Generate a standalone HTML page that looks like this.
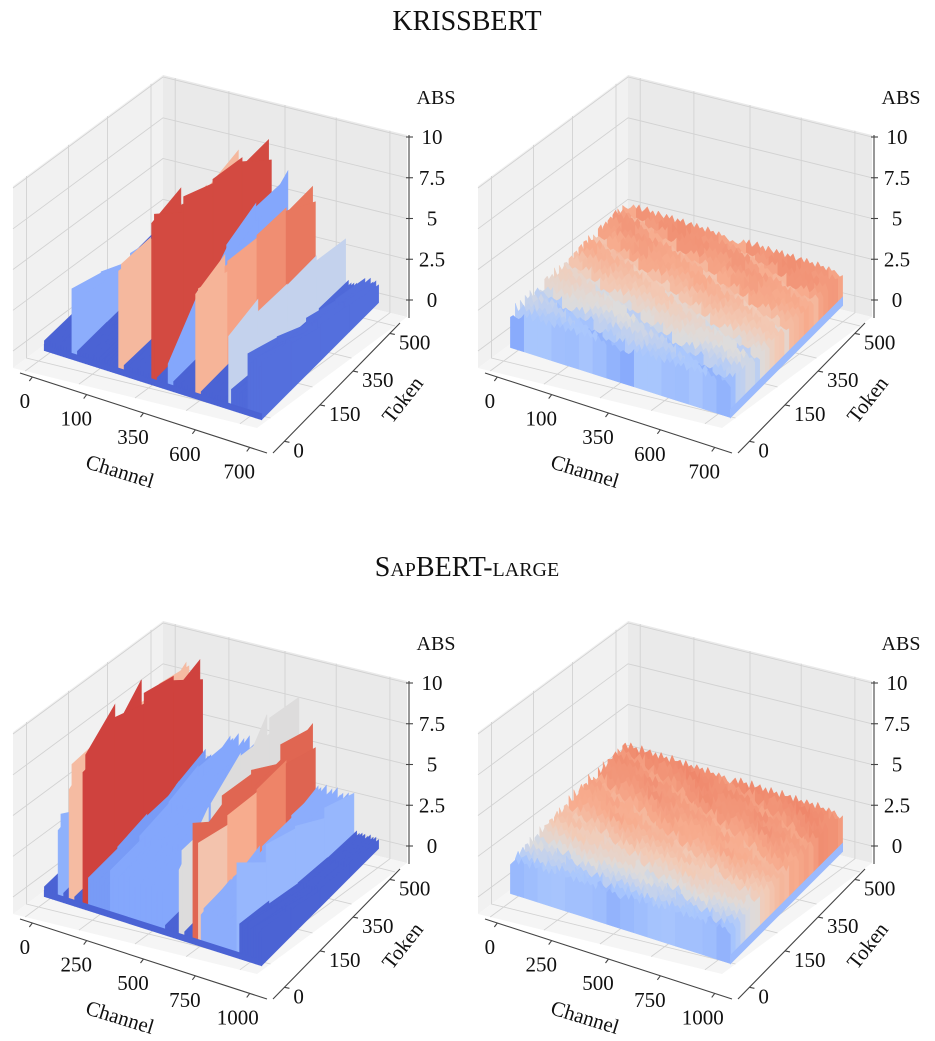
<!DOCTYPE html>
<html><head><meta charset="utf-8"><style>
html,body{margin:0;padding:0;background:#fff;}
svg{display:block;font-family:"Liberation Serif",serif;}
</style></head><body>
<svg id="fig" width="935" height="1041" viewBox="0 0 935 1041" xmlns="http://www.w3.org/2000/svg">
<rect width="935" height="1041" fill="#fff"/>
<text x="467" y="30" text-anchor="middle" font-size="28" fill="#111">KRISSBERT</text>
<text x="467" y="576" text-anchor="middle" font-size="28" fill="#111" style="font-variant:small-caps">SapBERT-large</text>
</svg>
<script>
// ---- shared tick labels ----
const chanTicksTop = ["0","100","350","600","700"];
const chanTicksBottom = ["0","250","500","750","1000"];
const tokenTicks = ["0","150","350","500"];
const zTicks = [0, 2.5, 5, 7.5, 10];
const zTickLabels = ["0","2.5","5","7.5","10"];
const chanTickFrac = [0.05, 0.27, 0.5, 0.71, 0.93];
const tokenTickFrac = [0.09, 0.37, 0.63, 0.92];

// ---- KRISSBERT original (outlier ribbons) ----
const krissBase = [0.6, 0.55, 0.5, 0.5, 0.45];
const krissSegStart = [0.13, 0.34, 0.49, 0.57, 0.69, 0.84, 0.855, 0.93];
const krissSegEnd   = [0.145, 0.355, 0.505, 0.585, 0.705, 0.855, 0.93, 1.0];
const krissSegHeights = [
  [4.0,3.3,2.7,2.2,1.8],
  [6.8,6.5,6.3,6.2,6.0],
  [10.2,9.5,8.8,8.1,7.4],
  [1.5,4.0,5.0,5.5,6.0],
  [6.6,6.5,6.3,6.0,5.5],
  [4.7,4.4,4.2,3.9,3.7],
  [1.2,1.0,0.9,0.8,0.7],
  [3.5,2.8,2.2,1.6,1.2]
];
const krissSegTones = [
  [3.2,3.2,3.2,3.2,3.2],
  [6.6,6.6,6.6,6.6,6.6],
  [9.1,9.1,9.1,9.1,9.1],
  [3.0,3.0,3.0,3.0,3.0],
  [6.5,7.0,7.5,8.0,8.5],
  [4.5,4.5,4.5,4.5,4.5],
  [1.0,1.0,1.0,1.0,1.0],
  [1.2,1.2,1.2,1.2,1.2]
];
// ---- SapBERT-large original ----
const sapBase = [0.6, 0.55, 0.5, 0.5, 0.45];
const sapSegStart = [0.07, 0.12, 0.18, 0.2, 0.3, 0.62, 0.68, 0.70, 0.72, 0.88, 0.895];
const sapSegEnd   = [0.085, 0.135, 0.195, 0.3, 0.55, 0.635, 0.69, 0.715, 0.88, 0.895, 1.0];
const sapSegHeights = [
  [4.8,4.5,4.3,4.1,4.0],
  [8.0,8.0,7.8,7.6,7.5],
  [9.3,9.8,9.5,8.5,7.7],
  [2.0,2.1,2.2,2.3,2.4],
  [2.8,3.1,3.4,3.7,3.9],
  [5.0,6.0,7.0,7.5,7.5],
  [6.6,6.5,6.3,6.1,6.0],
  [6.1,6.0,5.8,5.6,5.5],
  [2.2,2.3,2.4,2.5,2.6],
  [5.2,4.6,4.0,3.4,2.9],
  [2.2,1.6,1.1,0.8,0.6]
];
const sapSegTones = [
  [3.3,3.3,3.3,3.3,3.3],
  [6.5,6.5,6.5,6.5,6.5],
  [9.2,9.2,9.2,9.2,9.2],
  [2.6,2.6,2.6,2.6,2.6],
  [3.0,3.0,3.0,3.0,3.0],
  [5.0,5.0,5.0,5.0,5.0],
  [8.6,8.6,8.6,8.6,8.6],
  [6.0,6.5,7.5,8.5,8.8],
  [3.2,3.2,3.2,3.2,3.2],
  [3.5,3.5,3.5,3.5,3.5],
  [0.8,0.8,0.8,0.8,0.8]
];
const baseJitter = [1.0,0.85,1.1,0.95,1.05,0.9,1.12,0.97,1.03,0.88,1.08,0.93,1.0,1.06,0.9,1.02];

// ---- smoothed (right) panels: rows front->back ----
const krissRowLevel = [2.2,2.2,2.1,2.2,2.1,2.1,2.0,2.1,2.0,2.0,2.0,2.0,2.0,2.0,2.0,2.0,1.9,2.0,2.0,1.9,2.0,2.0,1.9,2.0];
const krissRowTone  = [3.8,4.0,4.2,4.4,4.6,4.8,5.0,5.2,5.4,5.6,5.9,6.1,6.3,6.5,6.7,6.9,7.0,7.1,7.2,7.3,7.4,7.5,7.5,7.6];
const krissChanFactor = [0.85,0.92,0.88,0.86,0.93,1.05,0.95,1.1,0.9,1.0,1.12,0.95,1.05,0.9,1.1,1.0,0.92,1.08,0.97,1.1,0.9,1.05,0.98,1.1,0.9,1.0,1.07,0.93,1.1,0.96,1.03,0.9,1.1,0.97,1.02,0.9,1.06,0.95,1.0,0.92];
const sapRowLevel = [2.1,2.1,2.1,2.1,2.1,2.1,2.2,2.2,2.2,2.2,2.2,2.2,2.2,2.3,2.3,2.3,2.3,2.3,2.3,2.3,2.3,2.3,2.3,2.3];
const sapRowTone  = [3.8,4.0,4.3,4.6,4.9,5.2,5.5,5.8,6.0,6.3,6.5,6.7,6.9,7.0,7.1,7.2,7.3,7.4,7.5,7.6,7.6,7.7,7.7,7.8];
const sapChanFactor = [0.85,0.95,1.05,0.9,1.1,0.97,1.02,0.88,1.12,0.95,1.0,1.08,0.92,1.05,0.9,1.1,0.96,1.03,0.9,1.12,0.98,1.0,1.06,0.9,1.1,0.95,1.02,0.93,1.08,0.97,1.04,0.9,1.1,0.96,1.0,0.92,1.05,0.95,1.02,0.9];

const NS = "http://www.w3.org/2000/svg";
const svg = document.getElementById('fig');
const CW = [[0,59,76,192],[0.1,79,105,217],[0.2,103,136,238],[0.3,132,167,252],[0.4,170,199,253],[0.5,221,220,220],[0.6,242,203,183],[0.7,247,172,142],[0.8,238,132,104],[0.9,214,82,68],[1.0,180,4,38]];
function cmap(v){v=Math.max(0,Math.min(1,v));for(let i=1;i<CW.length;i++){if(v<=CW[i][0]){const a=CW[i-1],b=CW[i],f=(v-a[0])/(b[0]-a[0]);return 'rgb('+[1,2,3].map(k=>Math.round(a[k]+(b[k]-a[k])*f)).join(',')+')';}}return 'rgb(180,4,38)';}
function mk(tag, attrs, parent){const e=document.createElementNS(NS,tag);for(const k in attrs)e.setAttribute(k,attrs[k]);(parent||svg).appendChild(e);return e;}
function pts(a){return a.map(p=>p[0].toFixed(1)+','+p[1].toFixed(1)).join(' ');}

// axis functions
function P(ox,oy,c,t,z){return [ox+43+220*c+117*t, oy+350+70*c-117*t-16.3*z];}
function lerp(a,b,f){return [a[0]+(b[0]-a[0])*f, a[1]+(b[1]-a[1])*f];}
function zOff(z){return 17+16.3*z;}

function drawBox(ox,oy,g){
  const FL=[ox+13,oy+368], BL=[ox+163,oy+257], BR=[ox+407,oy+317], FR=[ox+257,oy+428], H=182;
  const up=p=>[p[0],p[1]-H];
  let e;
  e=mk('polygon',{points:pts([FL,BL,up(BL),up(FL)]),fill:'#f1f1f1'},g);
  
  
  e=mk('polygon',{points:pts([BL,BR,up(BR),up(BL)]),fill:'#eaeaea'},g);
  
  
  e=mk('polygon',{points:pts([FL,FR,BR,BL]),fill:'#f5f5f5'},g);
  
  
  const gs={stroke:'#d2d2d2','stroke-width':0.9,fill:'none'};
  zTicks.forEach(z=>{const d=zOff(z);
    e=mk('polyline',Object.assign({points:pts([[FL[0],FL[1]-d],[BL[0],BL[1]-d],[BR[0],BR[1]-d]])},gs),g);
    
    
  });
  chanTickFrac.forEach(f=>{const b=lerp(BL,BR,f), a=lerp(FL,FR,f);
    e=mk('polyline',Object.assign({points:pts([a,b,[b[0],b[1]-H]])},gs),g);
    
    
  });
  tokenTickFrac.forEach(f=>{const b=lerp(FL,BL,f), a=lerp(FR,BR,f);
    e=mk('polyline',Object.assign({points:pts([a,b,[b[0],b[1]-H]])},gs),g);
    
    
  });
}

function drawAxes(ox,oy,g,chanLabels){
  let e;
  const cA=[ox+20,oy+373], cB=[ox+267,oy+453], tA=[ox+273,oy+453], tB=[ox+400,oy+323];
  const ax={stroke:'#444','stroke-width':1.1};
  e=mk('line',Object.assign({x1:cA[0],y1:cA[1],x2:cB[0],y2:cB[1]},ax),g);
  
  
  e=mk('line',Object.assign({x1:tA[0],y1:tA[1],x2:tB[0],y2:tB[1]},ax),g);
  
  
  e=mk('line',Object.assign({x1:ox+409,y1:oy+318,x2:ox+409,y2:oy+135},ax),g);
  
  
  chanLabels.forEach((lab,i)=>{const p=lerp(cA,cB,chanTickFrac[i]);
    e=mk('line',Object.assign({x1:p[0],y1:p[1],x2:p[0]-3,y2:p[1]+4},ax),g);
    
    
    e=mk('text',{x:p[0]-6-lab.length*1.5,y:p[1]+31,'text-anchor':'middle','font-size':21,fill:'#111'},g);
    
    
    e.textContent=lab;
  });
  tokenTicks.forEach((lab,i)=>{const p=lerp(tA,tB,tokenTickFrac[i]);
    e=mk('line',Object.assign({x1:p[0],y1:p[1],x2:p[0]+5,y2:p[1]+1},ax),g);
    
    
    e=mk('text',{x:p[0]+9,y:p[1]+16,'text-anchor':'start','font-size':21,fill:'#111'},g);
    
    
    e.textContent=lab;
  });
  zTicks.forEach((z,i)=>{const y=oy+317-zOff(z);
    e=mk('line',Object.assign({x1:ox+406,y1:y,x2:ox+413,y2:y},ax),g);
    
    
    e=mk('text',{x:ox+432,y:y+7,'text-anchor':'middle','font-size':21,fill:'#111'},g);
    
    
    e.textContent=zTickLabels[i];
  });
  e=mk('text',{x:ox+436,y:oy+104,'text-anchor':'middle','font-size':20,fill:'#111'},g);
  
  
  e.textContent='ABS';
  e=mk('text',{x:ox+118,y:oy+478,'text-anchor':'middle','font-size':21,fill:'#111',transform:'rotate(17 '+(ox+118)+' '+(oy+478)+')'},g);
  
  
  e.textContent='Channel';
  e=mk('text',{x:ox+408,y:oy+404,'text-anchor':'middle','font-size':21,fill:'#111',transform:'rotate(-52 '+(ox+408)+' '+(oy+404)+')'},g);
  
  
  e.textContent='Token';
}

function drawRibbons(ox,oy,g,base,segS,segE,segH,segT){
  const NB=80;
  const segBins=segS.map((s,i)=>{const a=Math.floor(s*NB);return [a,Math.max(a,Math.ceil(segE[i]*NB)-1)];});
  for(let b=0;b<NB;b++){
    const c=(b+0.5)/NB;
    let h=base, tn=[0.8,0.8,0.8,0.8,0.8];
    segBins.forEach((r,i)=>{if(b>=r[0]&&b<=r[1]){h=segH[i];tn=segT[i];}});
    const j=baseJitter[b%baseJitter.length];
    for(let k=0;k<4;k++){
      const t0=k/4,t1=(k+1)/4;
      const j2=baseJitter[(b+k+3)%baseJitter.length];
      const q=[P(ox,oy,c,t0,h[k]*j),P(ox,oy,c,t1,h[k+1]*j2),P(ox,oy,c,t1,0),P(ox,oy,c,t0,0)];
      const col=cmap((tn[k]+tn[k+1])/20);
      const e=mk('polygon',{points:pts(q),fill:col,stroke:col,'stroke-width':0.6},g);
      
      
    }
  }
  const sk=[P(ox,oy,0.5/NB,0,0.35),P(ox,oy,1-0.5/NB,0,0.35),P(ox,oy,1-0.5/NB,0,0),P(ox,oy,0.5/NB,0,0)];
  const e=mk('polygon',{points:pts(sk),fill:cmap(0.08),stroke:cmap(0.08),'stroke-width':1},g);
  
  
}

function drawRows(ox,oy,g,level,tone,factor){
  const R=level.length, NC=80, CH=5;
  for(let k=R-1;k>=0;k--){
    const t=(k+0.5)/R;
    for(let j0=0;j0<NC;j0+=CH){
      const top=[];let fs=0;
      for(let j=j0;j<=j0+CH;j++){
        const f=factor[(j+k*7)%factor.length];fs+=f;
        top.push(P(ox,oy,j/NC,t,level[k]*f));
      }
      top.push(P(ox,oy,(j0+CH)/NC,t,0));top.push(P(ox,oy,j0/NC,t,0));
      const tv=tone[k]+(fs/(CH+1)-1)*8;
      const col=cmap(tv/10);
      const e=mk('polygon',{points:pts(top),fill:col,stroke:col,'stroke-width':0.5},g);
      
      
    }
  }
  const sk=[P(ox,oy,1,0.5/R,0.5),P(ox,oy,1,1-0.5/R,0.5),P(ox,oy,1,1-0.5/R,0),P(ox,oy,1,0.5/R,0)];
  const e=mk('polygon',{points:pts(sk),fill:cmap(0.36),stroke:cmap(0.36),'stroke-width':0.8},g);
  
  
}

function panel(name,ox,oy,chanLabels,drawFn){
  const g=mk('g',{});
  
  
  drawBox(ox,oy,g);
  drawFn(g);
  drawAxes(ox,oy,g,chanLabels);
}
panel('krissbert-original-plot',0,0,chanTicksTop,g=>drawRibbons(0,0,g,krissBase,krissSegStart,krissSegEnd,krissSegHeights,krissSegTones));
panel('krissbert-smoothed-plot',465,0,chanTicksTop,g=>drawRows(465,0,g,krissRowLevel,krissRowTone,krissChanFactor));
panel('sapbert-original-plot',0,546,chanTicksBottom,g=>drawRibbons(0,546,g,sapBase,sapSegStart,sapSegEnd,sapSegHeights,sapSegTones));
panel('sapbert-smoothed-plot',465,546,chanTicksBottom,g=>drawRows(465,546,g,sapRowLevel,sapRowTone,sapChanFactor));
</script>
</body></html>
